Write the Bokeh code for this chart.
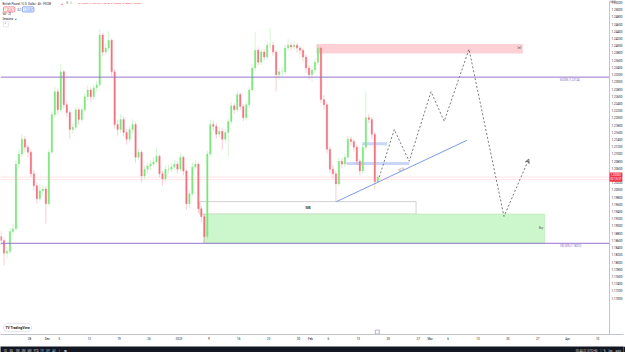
from bokeh.plotting import figure
from bokeh.models import (Range1d, FixedTicker, NumeralTickFormatter, Span, Label, Arrow, VeeHead,
                          BoxAnnotation)
from bokeh.layouts import column
from bokeh.embed import file_html
from bokeh.resources import INLINE
from bokeh.core.properties import value

# ---------------- data: GBP/USD, one candle per 12h (index 0 = 21 Nov 2022) ----------------
close = [
    1.1859, 1.1824, 1.1829, 1.1884, 1.1892, 1.2071, 1.2099, 1.2140, 1.2118, 1.2104,
    1.2044, 1.2011, 1.1975, 1.1997, 1.2002, 1.1961, 1.2104, 1.2209, 1.2272, 1.2222,
    1.2327, 1.2236, 1.2214, 1.2167, 1.2173, 1.2222, 1.2195, 1.2222, 1.2258, 1.2277,
    1.2258, 1.2283, 1.2291, 1.2429, 1.2382, 1.2393, 1.2415, 1.2327, 1.2181, 1.2167,
    1.2195, 1.2159, 1.2140, 1.2167, 1.2181, 1.2090, 1.2104, 1.2038, 1.2057, 1.2066,
    1.2071, 1.2077, 1.2093, 1.2044, 1.2030, 1.2057, 1.2057, 1.2063, 1.2071, 1.2057,
    1.2090, 1.2052, 1.1961, 1.1989, 1.2063, 1.2071, 1.1947, 1.1925, 1.1870, 1.2099,
    1.2181, 1.2176, 1.2154, 1.2162, 1.2140, 1.2159, 1.2189, 1.2233, 1.2222, 1.2264,
    1.2231, 1.2200, 1.2236, 1.2277, 1.2338, 1.2387, 1.2354, 1.2382, 1.2368, 1.2401,
    1.2401, 1.2382, 1.2319, 1.2327, 1.2327, 1.2393, 1.2401, 1.2396, 1.2401, 1.2393,
    1.2387, 1.2368, 1.2338, 1.2319, 1.2332, 1.2354, 1.2393, 1.2250, 1.2236, 1.2112,
    1.2057, 1.2044, 1.2016, 1.2079, 1.2071, 1.2090, 1.2140, 1.2134, 1.2118, 1.2079,
    1.2052, 1.2118, 1.2200, 1.2195, 1.2154, 1.2022, 1.2035]
high = [
    1.1885, 1.1866, 1.1842, 1.1893, 1.1905, 1.2082, 1.2112, 1.2154, 1.2148, 1.2125,
    1.2110, 1.2055, 1.2020, 1.2015, 1.2012, 1.2010, 1.2112, 1.2218, 1.2285, 1.2280,
    1.2349, 1.2332, 1.2245, 1.2220, 1.2185, 1.2230, 1.2228, 1.2232, 1.2268, 1.2290,
    1.2284, 1.2292, 1.2302, 1.2446, 1.2436, 1.2405, 1.2440, 1.2420, 1.2335, 1.2195,
    1.2210, 1.2202, 1.2168, 1.2176, 1.2195, 1.2188, 1.2115, 1.2110, 1.2068, 1.2075,
    1.2082, 1.2090, 1.2118, 1.2098, 1.2052, 1.2066, 1.2070, 1.2075, 1.2082, 1.2080,
    1.2104, 1.2095, 1.2058, 1.2000, 1.2075, 1.2082, 1.2076, 1.1955, 1.1932, 1.2108,
    1.2195, 1.2192, 1.2184, 1.2172, 1.2170, 1.2168, 1.2198, 1.2242, 1.2240, 1.2275,
    1.2270, 1.2238, 1.2245, 1.2286, 1.2348, 1.2437, 1.2395, 1.2392, 1.2390, 1.2412,
    1.2448, 1.2410, 1.2388, 1.2338, 1.2340, 1.2402, 1.2418, 1.2410, 1.2412, 1.2408,
    1.2400, 1.2392, 1.2375, 1.2345, 1.2342, 1.2365, 1.2402, 1.2398, 1.2262, 1.2242,
    1.2120, 1.2068, 1.2052, 1.2090, 1.2088, 1.2100, 1.2150, 1.2148, 1.2140, 1.2125,
    1.2085, 1.2128, 1.2272, 1.2210, 1.2202, 1.2160, 1.2045]
low = [
    1.1845, 1.1790, 1.1810, 1.1822, 1.1872, 1.1885, 1.2060, 1.2090, 1.2105, 1.2090,
    1.2035, 1.1998, 1.1962, 1.1968, 1.1985, 1.1906, 1.1955, 1.2098, 1.2200, 1.2210,
    1.2215, 1.2225, 1.2200, 1.2140, 1.2155, 1.2165, 1.2180, 1.2188, 1.2215, 1.2248,
    1.2245, 1.2250, 1.2272, 1.2285, 1.2370, 1.2375, 1.2385, 1.2315, 1.2170, 1.2150,
    1.2158, 1.2148, 1.2125, 1.2132, 1.2155, 1.2075, 1.2082, 1.2020, 1.2030, 1.2045,
    1.2055, 1.2062, 1.2070, 1.2035, 1.2012, 1.2022, 1.2045, 1.2048, 1.2055, 1.2045,
    1.2050, 1.2040, 1.1945, 1.1950, 1.1982, 1.2055, 1.1935, 1.1910, 1.1852, 1.1862,
    1.2090, 1.2165, 1.2142, 1.2145, 1.2112, 1.2130, 1.2093, 1.2182, 1.2210, 1.2215,
    1.2220, 1.2190, 1.2192, 1.2228, 1.2270, 1.2330, 1.2345, 1.2346, 1.2358, 1.2360,
    1.2390, 1.2372, 1.2272, 1.2305, 1.2315, 1.2320, 1.2385, 1.2385, 1.2388, 1.2380,
    1.2375, 1.2355, 1.2325, 1.2305, 1.2300, 1.2325, 1.2346, 1.2240, 1.2222, 1.2100,
    1.2045, 1.2030, 1.1967, 1.2008, 1.2060, 1.2062, 1.2082, 1.2122, 1.2105, 1.2068,
    1.2040, 1.2045, 1.2110, 1.2185, 1.2140, 1.2002, 1.2015]
first_open = 1.1870

# time axis (12h units from 21 Nov 2022)
tick_units = [10, 16, 20, 30, 40, 50, 60, 70, 80, 90, 100, 104, 110, 120, 130, 140, 144,
              150, 160, 170, 180, 190, 200]
tick_labels = ["28", "Dec", "5", "12", "19", "26", "2023", "9", "16", "23", "30", "Feb",
               "6", "13", "20", "27", "Mar", "6", "13", "20", "27", "Apr", "10"]

# drawings
fib_levels = [1.23124, 1.18513]
fib_texts = ["50.00% (1.23124)", "100.00% (1.18513)"]
supply_zone = dict(left=106.0, right=175.0, bottom=1.2378, top=1.2404)
imb_box = dict(left=67.0, right=139.3, bottom=1.19324, top=1.1967)
demand_zone = dict(left=68.3, right=182.3, bottom=1.18513, top=1.19324)
blue_boxes = dict(left=[121.3, 116.0], right=[129.7, 137.0],
                  bottom=[1.21235, 1.20685], top=[1.21318, 1.20768])
trend_x = [112.7, 156.3]
trend_y = [1.1967, 1.2137]
proj_x = [127.0, 132.0, 137.0, 144.3, 148.7, 157.0, 168.7, 177.0]
proj_y = [1.2035, 1.2167, 1.2079, 1.2272, 1.2190, 1.2390, 1.1926, 1.2085]
ask_price = 1.2028

# ---------------- figure ----------------
FONT = "Roboto"
X0, PXU = 0.33, 3.0
Y_TOP, PPY = 1.2525, 0.000275
def X(px): return X0 + px / PXU
def Y(py): return Y_TOP - py * PPY

p = figure(width=625, height=343, x_range=Range1d(X0, X0 + 625 / PXU),
           y_range=Range1d(Y_TOP - 337 * PPY, Y_TOP), y_axis_location="right",
           output_backend="svg", toolbar_location=None,
           min_border_left=0, min_border_top=0, min_border_right=0, min_border_bottom=6,
           background_fill_color="white", border_fill_color="white")
p.grid.visible = False
p.outline_line_color = None

for ax in (p.xaxis[0], p.yaxis[0]):
    ax.axis_line_color = "#b2b5be"
    ax.axis_line_width = 0.8
    ax.major_tick_line_color = None
    ax.minor_tick_line_color = None
    ax.major_tick_out = 0
    ax.major_tick_in = 0
    ax.major_label_text_font = FONT
    ax.major_label_text_font_size = "3px"
    ax.major_label_text_color = "#131722"
    ax.major_label_standoff = 2
p.xaxis.ticker = FixedTicker(ticks=tick_units)
p.xaxis.major_label_overrides = {u: s for u, s in zip(tick_units, tick_labels)}
p.yaxis.ticker = FixedTicker(ticks=[round(1.170 + 0.002 * k, 3) for k in range(42)])
p.yaxis.formatter = NumeralTickFormatter(format="0.00000")
p.yaxis.axis_line_color = None
p.yaxis.major_label_standoff = -12   # price scale drawn over the right strip of the canvas

# zones
p.quad(left=[imb_box["left"]], right=[imb_box["right"]], bottom=[imb_box["bottom"]], top=[imb_box["top"]],
       fill_color="white", line_color="#c4c4c4", line_width=0.8)
p.quad(left=[demand_zone["left"]], right=[demand_zone["right"]], bottom=[demand_zone["bottom"]],
       top=[demand_zone["top"]], fill_color="#ccf7cc", line_color="#b5e3b5", line_width=0.6)
p.quad(left=[supply_zone["left"]], right=[supply_zone["right"]], bottom=[supply_zone["bottom"]],
       top=[supply_zone["top"]], fill_color="#fdd0d5", line_color=None)
p.quad(left=blue_boxes["left"], right=blue_boxes["right"], bottom=blue_boxes["bottom"],
       top=blue_boxes["top"], fill_color="#c9d6f8", line_color=None)

# candles
opens = [first_open] + close[:-1]
xs = [i + 0.5 for i in range(len(close))]
UP, DN = "#7de67d", "#f4717d"
cols = [UP if c >= o else DN for o, c in zip(opens, close)]
p.segment(x0=xs, y0=high, x1=xs, y1=low, line_color=cols, line_width=0.7, line_alpha=0.5)
p.vbar(x=xs, width=0.5, top=[max(o, c) for o, c in zip(opens, close)],
       bottom=[min(o, c) for o, c in zip(opens, close)], fill_color=cols, line_color=cols, line_width=0.3)

# horizontal lines (fib levels, current bid/ask)
for lv in fib_levels:
    p.add_layout(Span(location=lv, dimension="width", line_color="#9575cd", line_width=1, level="glyph"))
p.add_layout(Span(location=close[-1], dimension="width", line_color="#f7a3ab", line_width=0.6,
                  line_dash="1 1", level="glyph"))
p.add_layout(Span(location=ask_price, dimension="width", line_color="#f7a3ab", line_width=0.6,
                  line_dash="1 1", level="glyph"))
for lv, tx in zip(fib_levels, fib_texts):
    p.add_layout(Label(x=X(561), y=lv, text=tx, text_font=FONT, text_font_size="2.6px",
                       text_color="#7e57c2", text_baseline="top", y_offset=-1.5))

# trend line + label
p.line(trend_x, trend_y, line_color="#5b7fe6", line_width=0.8)
p.add_layout(Label(x=X(402), y=Y(171), text="22.3", text_font=FONT, text_font_size="3px",
                   text_color="#444", angle=0.44, text_align="center", text_baseline="bottom"))

# projection path
p.line(proj_x, proj_y, line_color="#555555", line_width=0.8, line_dash="2 2")
p.add_layout(Arrow(end=VeeHead(size=4, line_color="#555555", line_width=0.8, fill_color=None),
                   x_start=proj_x[-2], y_start=proj_y[-2], x_end=proj_x[-1], y_end=proj_y[-1],
                   line_alpha=0))

# zone labels
p.add_layout(Label(x=supply_zone["right"], y=(supply_zone["top"] + supply_zone["bottom"]) / 2, text="Sell",
                   text_font=FONT, text_font_size="2.6px", text_color="#555", text_align="right",
                   text_baseline="middle", x_offset=-1.5))
p.add_layout(Label(x=demand_zone["right"], y=(demand_zone["top"] + demand_zone["bottom"]) / 2, text="Buy",
                   text_font=FONT, text_font_size="2.6px", text_color="#555", text_align="right",
                   text_baseline="middle", x_offset=-1.5))
p.add_layout(Label(x=(imb_box["left"] + imb_box["right"]) / 2, y=(imb_box["top"] + imb_box["bottom"]) / 2,
                   text="IMB", text_font=FONT, text_font_size="2.8px", text_font_style="bold",
                   text_color="#333", text_align="center", text_baseline="middle"))

# legend (top-left)
def lab(px, py, text, color="#131722", size="2.9px", **kw):
    p.add_layout(Label(x=X(px), y=Y(py), text=text, text_font=FONT, text_font_size=size,
                       text_color=color, text_baseline="middle", **kw))
lab(2, 3, "British Pound / U.S. Dollar · 4h · FXCM")
lab(61, 3, "●", color="#f23645", size="3px")
lab(66, 3, "B", color="#26a69a", size="2.6px")
lab(70, 3, "S", color="#9598a1", size="2.6px")
lab(78, 3, "O1.20363 H1.20440 L1.20189 C1.20300 −0.00063 (−0.05%)", color="#f23645", size="2.4px")
lab(3, 9, "1.20267", color="#f23645", size="2.6px", border_line_color="#f23645", border_line_width=0.6,
    padding=1, border_radius=1)
lab(17, 9, "0.2", color="#131722", size="2.6px")
lab(22, 9, "1.20287", color="#2962ff", size="2.6px", border_line_color="#2962ff", border_line_width=0.6,
    padding=1, border_radius=1)
lab(2, 14, "Vol · 23", size="2.6px")
lab(2, 19, "Sessions · ●", size="2.6px")
lab(3, 24, "⌃", size="2.6px", border_line_color="#d1d4dc", border_line_width=0.5, padding=1)

# TradingView watermark
p.add_layout(Label(x=X(3), y=Y(330), text="TV TradingView", text_font=FONT, text_font_size="3.4px",
                   text_font_style="bold", text_color="#131722", text_baseline="middle",
                   background_fill_color="white", border_line_color="#d1d4dc", border_line_width=0.6,
                   padding=2, border_radius=4))
# scroll button near time axis
p.rect(x=[X(378)], y=[Y(334.5)], width=4, height=4, width_units="screen", height_units="screen",
       fill_color="white", line_color="#9575cd", line_width=0.6)

# price scale strip: white background with separator, labels of the axis drawn on top
p.add_layout(BoxAnnotation(left=X(611), fill_color="white", fill_alpha=1.0, line_color=None, level="glyph"))
p.add_layout(Span(location=X(611), dimension="height", line_color="#b2b5be", line_width=0.8, level="glyph"))
p.add_layout(Label(x=X(612), y=Y(2), text="USD", text_font=FONT, text_font_size="2.6px",
                   text_color="#131722", text_baseline="middle"))
p.add_layout(Label(x=X(611), y=close[-1], text="1.20350\n02:15:37", text_font=FONT,
                   text_font_size="2.8px", text_color="white", text_baseline="middle",
                   background_fill_color="#f23645", padding=1))

# ---------------- bottom toolbar bar ----------------
p2 = figure(width=625, height=9, x_range=Range1d(0, 625), y_range=Range1d(0, 9),
            output_backend="svg", toolbar_location=None, min_border=0,
            background_fill_color="#131722", border_fill_color="#131722")
p2.axis.visible = False
p2.grid.visible = False
p2.outline_line_color = None
bar_texts = ["1D", "5D", "1M", "3M", "6M", "YTD", "1Y", "5Y", "All", "|", "▦",
             "05:44:22 (UTC+8)", "|", "%", "log", "auto"]
bar_x = [3, 9, 15, 21, 27, 33, 40, 46, 52, 59, 64, 577, 602, 605, 610, 617]
p2.text(x=bar_x, y=[4.5] * len(bar_x), text=bar_texts, text_font=value(FONT),
        text_font_size="2.8px", text_color="#d1d4dc", text_baseline="middle")

layout = column(p, p2, spacing=0)
open("out.html", "w").write(file_html(layout, INLINE))
